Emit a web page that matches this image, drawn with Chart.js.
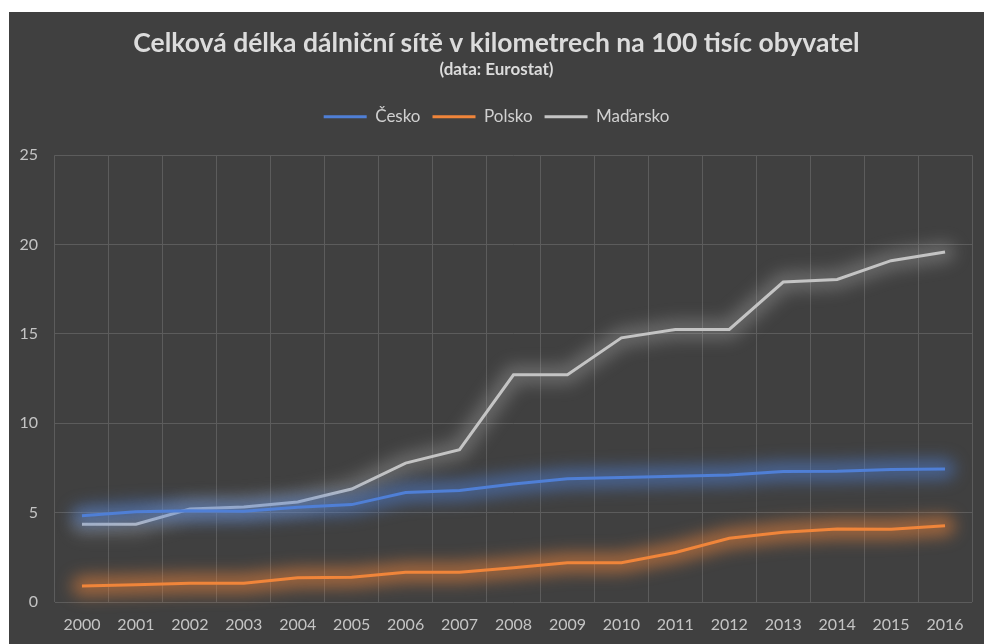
<!DOCTYPE html>
<html>
<head>
<meta charset="utf-8">
<script src="https://cdn.jsdelivr.net/npm/chart.js@4/dist/chart.umd.min.js"></script>
<style>
  body { margin: 0; background: #ffffff; }
  #wrap { position: absolute; left: 9px; top: 12px; width: 975px; height: 632px; background: #404040; }
</style>
</head>
<body>
<div id="wrap"><canvas id="graf"></canvas></div>
<script>
// roky a hodnoty (km dálnic na 100 tis. obyvatel)
var roky = ["2000", "2001", "2002", "2003", "2004", "2005", "2006", "2007", "2008",
  "2009", "2010", "2011", "2012", "2013", "2014", "2015", "2016"];
var cesko = [4.82, 5.05, 5.1, 5.08, 5.3, 5.45, 6.13, 6.24, 6.6, 6.9, 6.97, 7.04, 7.1, 7.3, 7.32, 7.42, 7.44];
var polsko = [0.9, 0.97, 1.05, 1.05, 1.36, 1.38, 1.66, 1.66, 1.92, 2.2, 2.2, 2.77, 3.57, 3.9, 4.09, 4.07, 4.26];
var madarsko = [4.35, 4.35, 5.2, 5.32, 5.6, 6.32, 7.77, 8.52, 12.71, 12.71, 14.78, 15.25, 15.25, 17.9, 18.05, 19.1, 19.58];
var osaY = [0, 5, 10, 15, 20, 25];

var barvy = { cesko: "#4f7fd6", polsko: "#f0853a", madarsko: "#c4c4c4" };
var zareBarvy = { cesko: "rgba(79,127,214,0.55)", polsko: "rgba(240,133,58,0.55)", madarsko: "rgba(196,196,196,0.3)" };

// zare kolem car jako v excelu - rozmazana siroka cara pod datovou carou
var zare = {
  id: "zare",
  beforeDatasetDraw: function (chart, args) {
    var ctx = chart.ctx;
    var body = args.meta.data;
    var ds = chart.data.datasets[args.index];
    ctx.save();
    ctx.beginPath();
    body.forEach(function (p, i) {
      if (i === 0) ctx.moveTo(p.x, p.y);
      else ctx.lineTo(p.x, p.y);
    });
    ctx.strokeStyle = ds.zare;
    ctx.lineWidth = 20;
    ctx.lineJoin = "round";
    ctx.lineCap = "round";
    ctx.filter = "blur(8px)";
    ctx.stroke();
    ctx.restore();
  }
};

function serie(nazev, data, barva, zb) {
  return {
    label: nazev,
    data: data,
    borderColor: barva,
    backgroundColor: barva,
    zare: zb,
    borderWidth: 3,
    pointRadius: 0,
    tension: 0,
    fill: false,
    xAxisID: "x",
    yAxisID: "y"
  };
}

var pismo = "Lato, 'Open Sans', sans-serif";

new Chart(document.getElementById("graf"), {
  type: "line",
  data: {
    labels: roky,
    datasets: [
      serie("Česko", cesko, barvy.cesko, zareBarvy.cesko),
      serie("Polsko", polsko, barvy.polsko, zareBarvy.polsko),
      serie("Maďarsko", madarsko, barvy.madarsko, zareBarvy.madarsko)
    ]
  },
  options: {
    responsive: true,
    maintainAspectRatio: false,
    animation: false,
    layout: { padding: 0 },
    plugins: {
      title: {
        display: true,
        text: "Celková délka dálniční sítě v kilometrech na 100 tisíc obyvatel",
        color: "#dcdcdc",
        font: { family: pismo, size: 26.5, weight: "bold" },
        padding: { top: 16, bottom: 0 }
      },
      subtitle: {
        display: true,
        text: "(data: Eurostat)",
        color: "#dcdcdc",
        font: { family: pismo, size: 17, weight: "bold" },
        padding: { top: 0, bottom: 16 }
      },
      legend: {
        position: "top",
        labels: {
          color: "#d0d0d0",
          font: { family: pismo, size: 17 },
          usePointStyle: true,
          pointStyle: "line",
          pointStyleWidth: 43,
          padding: 12
        }
      },
      tooltip: { enabled: false }
    },
    scales: {
      x: {
        offset: true,
        grid: { color: "#5c5c5c", lineWidth: 1, offset: true, drawTicks: false },
        border: { display: false },
        ticks: { color: "#c4c4c4", font: { family: pismo, size: 16 }, padding: 13, maxRotation: 0 },
        afterFit: function (s) { s.height = 42; }
      },
      y: {
        min: 0,
        max: 25,
        afterBuildTicks: function (s) { s.ticks = osaY.map(function (v) { return { value: v }; }); },
        grid: { color: "#5c5c5c", lineWidth: 1, drawTicks: false },
        border: { display: false },
        ticks: { color: "#c4c4c4", font: { family: pismo, size: 16 }, padding: 17 },
        afterFit: function (s) { s.width = 46; }
      },
      // prazdne osy, jen mezery kolem plochy grafu
      mezera: {
        type: "category",
        position: "top",
        grid: { display: false },
        border: { display: false },
        ticks: { display: false },
        afterFit: function (s) { s.height = 20; }
      },
      mezeraR: {
        type: "linear",
        position: "right",
        grid: { display: false },
        border: { display: false },
        ticks: { display: false },
        afterFit: function (s) { s.width = 12; }
      }
    }
  },
  plugins: [zare]
});
</script>
</body>
</html>
